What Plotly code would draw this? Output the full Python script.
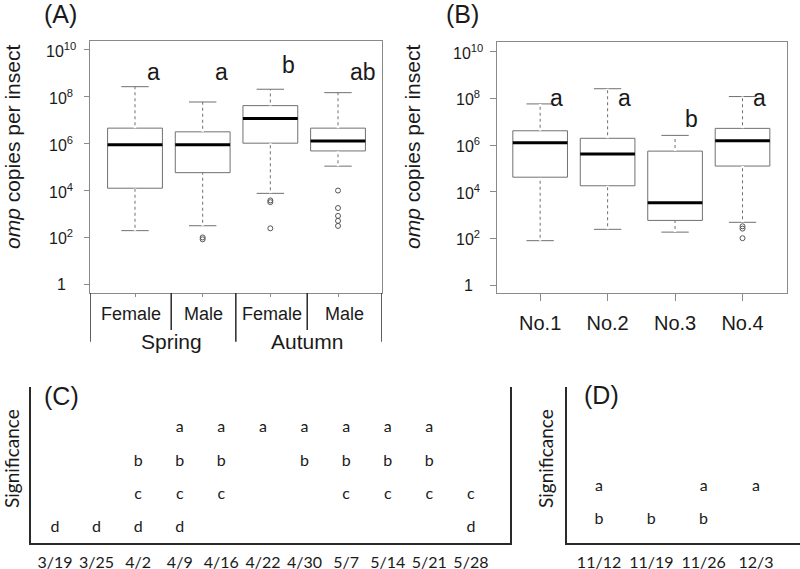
import math
import plotly.graph_objects as go

# ---------------- DATA ----------------
# Panel A: omp copies per insect by season / sex (box statistics)
A_season = ["Spring", "Autumn"]
A_sex = ["Female", "Male", "Female", "Male"]
A_upper = [2.7e8, 6.0e7, 2.1e8, 1.5e8]
A_q3 = [4.6e6, 3.2e6, 4.2e7, 4.6e6]
A_median = [8.9e5, 8.9e5, 1.2e7, 1.3e6]
A_q1 = [1.26e4, 5.8e4, 1.05e6, 4.9e5]
A_lower = [195, 316, 7.6e3, 1.1e5]
A_outliers = [[], [83, 100], [3.2e3, 3.8e3, 245], [1.0e4, 1.8e3, 830, 510, 310]]
A_letters = ["a", "a", "b", "ab"]

# Panel B: omp copies per insect by site
B_cats = ["No.1", "No.2", "No.3", "No.4"]
B_upper = [5.8e7, 2.6e8, 2.6e6, 1.2e8]
B_q3 = [4.1e6, 1.95e6, 5.5e5, 5.2e6]
B_median = [1.26e6, 4.1e5, 3.4e3, 1.55e6]
B_q1 = [4.2e4, 1.8e4, 590, 1.26e5]
B_lower = [80, 245, 186, 490]
B_outliers = [[], [], [], [263, 330, 102]]
B_letters = ["a", "a", "b", "a"]

# Panel C: significance groups by spring sampling date
C_dates = ["3/19", "3/25", "4/2", "4/9", "4/16", "4/22", "4/30", "5/7", "5/14", "5/21", "5/28"]
C_groups = ["d", "d", "bcd", "abcd", "abc", "a", "ab", "abc", "abc", "abc", "cd"]

# Panel D: significance groups by autumn sampling date
D_dates = ["11/12", "11/19", "11/26", "12/3"]
D_groups = ["ab", "b", "ab", "a"]

Y_TICKS = [0, 2, 4, 6, 8, 10]  # log10 exponents

# ---------------- STYLE ----------------
W, H = 800, 569
ARIAL = "Arial, Liberation Sans, sans-serif"
CALIBRI = "Lato, Carlito, Calibri, sans-serif"
TXT = "#1a1a1a"
FRAME = "#8a8a8a"
BOXC = "#707070"
BOX_W = 0.81
LEVELS_C = {"a": 4, "b": 3, "c": 2, "d": 1}
LEVELS_D = {"a": 2, "b": 1}
A_letter_y = [9.06, 9.06, 9.34, 9.06]
B_letter_y = [8.03, 8.03, 7.11, 8.03]


def px(x):
    return x / W


def py(y):
    return 1 - y / H


fig = go.Figure()


def box_panel(upper, q3, med, q1, lower, outliers, xa, ya):
    xs = list(range(len(med)))
    fig.add_trace(go.Box(
        x=xs, q1=q1, median=med, q3=q3, lowerfence=lower, upperfence=upper,
        width=BOX_W, whiskerwidth=0.5, fillcolor="white",
        line=dict(color=BOXC, width=1), boxpoints=False,
        xaxis=xa, yaxis=ya, showlegend=False, hoverinfo="skip"))
    # dashed whiskers (white gaps drawn over the solid whisker)
    wx, wy = [], []
    for i in xs:
        wx += [i, i, None, i, i, None]
        wy += [q3[i], upper[i], None, lower[i], q1[i], None]
    fig.add_trace(go.Scatter(x=wx, y=wy, mode="lines",
                             line=dict(color="white", width=2.5, dash="3px,3px"),
                             xaxis=xa, yaxis=ya, showlegend=False, hoverinfo="skip"))
    # thick median
    mx, my = [], []
    for i in xs:
        mx += [i - BOX_W / 2, i + BOX_W / 2, None]
        my += [med[i], med[i], None]
    fig.add_trace(go.Scatter(x=mx, y=my, mode="lines",
                             line=dict(color="black", width=3),
                             xaxis=xa, yaxis=ya, showlegend=False, hoverinfo="skip"))
    # outliers
    ox, oy = [], []
    for i, vals in enumerate(outliers):
        for v in vals:
            ox.append(i)
            oy.append(v)
    fig.add_trace(go.Scatter(x=ox, y=oy, mode="markers",
                             marker=dict(symbol="circle-open", size=5,
                                         color="#555", line=dict(width=1)),
                             xaxis=xa, yaxis=ya, showlegend=False, hoverinfo="skip"))


box_panel(A_upper, A_q3, A_median, A_q1, A_lower, A_outliers, "x", "y")
box_panel(B_upper, B_q3, B_median, B_q1, B_lower, B_outliers, "x2", "y2")


def letters_panel(dates, groups, levels, xa, ya):
    xs, ys, ts = [], [], []
    for i, g in enumerate(groups):
        for ch in g:
            xs.append(i)
            ys.append(levels[ch])
            ts.append(ch)
    fig.add_trace(go.Scatter(x=xs, y=ys, text=ts, mode="text",
                             textposition="middle center",
                             textfont=dict(family=CALIBRI, size=16, color=TXT),
                             xaxis=xa, yaxis=ya, showlegend=False, hoverinfo="skip"))


letters_panel(C_dates, C_groups, LEVELS_C, "x3", "y3")
letters_panel(D_dates, D_groups, LEVELS_D, "x4", "y4")

frame_common = dict(showline=True, mirror=True, linecolor=FRAME, linewidth=1,
                    showgrid=False, zeroline=False, automargin=False)

tickvals_log = [10 ** e for e in Y_TICKS]

fig.update_layout(
    template="none",
    width=W, height=H, margin=dict(l=0, r=0, t=0, b=0, autoexpand=False),
    paper_bgcolor="white", plot_bgcolor="white", showlegend=False,
    xaxis=dict(domain=[px(90), px(382)], range=[-0.665, 3.65], anchor="y",
               tickvals=[0, 1, 2, 3], showticklabels=False,
               ticks="outside", ticklen=3, tickcolor=FRAME, **frame_common),
    yaxis=dict(domain=[py(293), py(41)], type="log", range=[-0.37, 10.38], anchor="x",
               tickvals=tickvals_log, showticklabels=False,
               ticks="outside", ticklen=5, tickcolor=FRAME, **frame_common),
    xaxis2=dict(domain=[px(496.5), px(786.7)], range=[-0.647, 3.655], anchor="y2",
                tickvals=[0, 1, 2, 3], ticktext=B_cats,
                tickfont=dict(family=ARIAL, size=20, color=TXT),
                ticklabelstandoff=5,
                ticks="outside", ticklen=7, tickcolor=FRAME, **frame_common),
    yaxis2=dict(domain=[py(293), py(41.7)], type="log", range=[-0.34, 10.43], anchor="x2",
                tickvals=tickvals_log, showticklabels=False,
                ticks="outside", ticklen=6, tickcolor=FRAME, **frame_common),
    xaxis3=dict(domain=[px(30.7), px(510)], range=[-0.584, 10.94], anchor="y3",
                tickvals=list(range(len(C_dates))), ticktext=C_dates,
                tickfont=dict(family=CALIBRI, size=16, color=TXT),
                ticks="outside", ticklen=3, tickcolor="rgba(0,0,0,0)", automargin=False,
                showline=True, linecolor="#2a2a2a", linewidth=2,
                showgrid=False, zeroline=False),
    yaxis3=dict(domain=[py(543.3), py(386.7)], range=[0.55, 5.25], anchor="x3",
                showticklabels=False, ticks="", showline=True, mirror=True, automargin=False,
                linecolor="#2a2a2a", linewidth=2, showgrid=False, zeroline=False),
    xaxis4=dict(domain=[px(566.7), 1.0], range=[-0.618, 3.843], anchor="y4",
                tickvals=list(range(len(D_dates))), ticktext=D_dates,
                tickfont=dict(family=CALIBRI, size=16, color=TXT),
                ticks="outside", ticklen=3, tickcolor="rgba(0,0,0,0)", automargin=False,
                showline=True, linecolor="#2a2a2a", linewidth=2,
                showgrid=False, zeroline=False),
    yaxis4=dict(domain=[py(543.3), py(386.7)], range=[0.287, 5.077], anchor="x4",
                showticklabels=False, ticks="", showline=True, automargin=False,
                linecolor="#2a2a2a", linewidth=2, showgrid=False, zeroline=False),
)

ann = []


def tick_text(e):
    return "1" if e == 0 else "10<sup>%d</sup>" % e


# y tick labels (centered like the original)
for e in Y_TICKS:
    ann.append(dict(x=px(61), y=e, xref="paper", yref="y", text=tick_text(e),
                    showarrow=False, xanchor="center", yanchor="middle",
                    font=dict(family=ARIAL, size=16, color=TXT)))
    ann.append(dict(x=px(468), y=e, xref="paper", yref="y2", text=tick_text(e),
                    showarrow=False, xanchor="center", yanchor="middle",
                    font=dict(family=ARIAL, size=16, color=TXT)))

# axis titles
for xpix in (12, 412):
    ann.append(dict(x=px(xpix), y=py(147), xref="paper", yref="paper",
                    text="<i>omp</i> copies per insect", textangle=-90,
                    showarrow=False, xanchor="center", yanchor="middle",
                    font=dict(family=ARIAL, size=21, color=TXT)))
for xpix in (11, 545):
    ann.append(dict(x=px(xpix), y=py(459), xref="paper", yref="paper",
                    text="Significance", textangle=-90,
                    showarrow=False, xanchor="center", yanchor="middle",
                    font=dict(family=CALIBRI, size=19, color=TXT)))

# panel labels
for lab, xpix, ypix in (("(A)", 60, 14), ("(B)", 462, 14), ("(C)", 61, 396), ("(D)", 601, 395)):
    ann.append(dict(x=px(xpix), y=py(ypix), xref="paper", yref="paper", text=lab,
                    showarrow=False, xanchor="center", yanchor="middle",
                    font=dict(family=ARIAL, size=25, color=TXT)))

# significance letters for box panels
for i, t in enumerate(A_letters):
    ann.append(dict(x=i + 0.15, y=A_letter_y[i], xref="x", yref="y", text=t,
                    showarrow=False, xanchor="left", yanchor="middle",
                    font=dict(family=ARIAL, size=23, color=TXT)))
for i, t in enumerate(B_letters):
    ann.append(dict(x=i + 0.12, y=B_letter_y[i], xref="x2", yref="y2", text=t,
                    showarrow=False, xanchor="left", yanchor="middle",
                    font=dict(family=ARIAL, size=23, color=TXT)))

# two-level category axis for panel A
dividers = [(-0.665, True), (0.535, False), (1.49, True), (2.545, False), (3.65, True)]
shapes = []
for xv, long_ in dividers:
    shapes.append(dict(type="line", xref="x", yref="paper", x0=xv, x1=xv,
                       y0=py(293), y1=py(341.7 if long_ else 330),
                       line=dict(color="#2a2a2a", width=1.5)))
for i, s in enumerate(A_sex):
    mid = (dividers[i][0] + dividers[i + 1][0]) / 2
    ann.append(dict(x=mid, y=py(314.3), xref="x", yref="paper", text=s,
                    showarrow=False, xanchor="center", yanchor="middle",
                    font=dict(family=ARIAL, size=18, color=TXT)))
for j, s in enumerate(A_season):
    ann.append(dict(x=dividers[1 + 2 * j][0], y=py(341.7), xref="x", yref="paper", text=s,
                    showarrow=False, xanchor="center", yanchor="middle",
                    font=dict(family=ARIAL, size=21, color=TXT)))

fig.update_layout(annotations=ann, shapes=shapes)
fig.write_html("out.html", config={"displayModeBar": False},
               post_script="document.body.style.margin='0';")
